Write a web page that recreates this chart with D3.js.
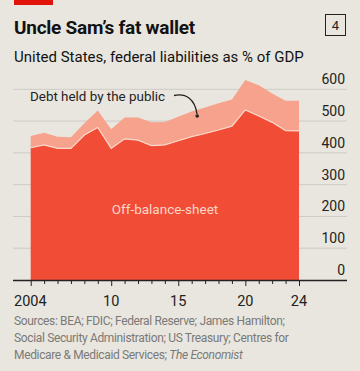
<!DOCTYPE html>
<html><head><meta charset="utf-8">
<script src="https://cdn.jsdelivr.net/npm/d3@7"></script>
<style>
html,body{margin:0;padding:0;background:#e9e6df;}
svg{display:block;font-family:Roboto,"Noto Sans",sans-serif;}
</style></head>
<body>
<svg id="chart" width="360" height="371"></svg>
<script>
const years = [2004,2005,2006,2007,2008,2009,2010,2011,2012,2013,2014,2015,2016,2017,2018,2019,2020,2021,2022,2023,2024];
const offBalanceSheet = [416,425,414,414,456,480,414,444,440,423,425,438,451,461,472,484,535,516,496,470,469];
const debtHeldByPublic = [37,38,37,35,37,53,60,67,71,73,72,76,79,82,84,84,94,97,91,94,95];
const yTicks = [0,100,200,300,400,500,600];
const xMajorTicks = [2004,2010,2015,2020,2024];
const xTickLabels = ["2004","10","15","20","24"];

const svg = d3.select("#chart");
const W = 360, H = 371;
svg.append("rect").attr("width",W).attr("height",H).attr("fill","#e9e6df");

// header
svg.append("rect").attr("x",14).attr("y",0).attr("width",39).attr("height",5).attr("fill","#e3120b");
svg.append("text").attr("x",14).attr("y",34).attr("font-size",19).attr("font-weight",700)
  .attr("fill","#121212").attr("letter-spacing",-0.25).text("Uncle Sam\u2019s fat wallet");
svg.append("rect").attr("x",325.5).attr("y",14.5).attr("width",20).attr("height",21)
  .attr("fill","none").attr("stroke","#222").attr("stroke-width",1);
svg.append("text").attr("x",335.5).attr("y",30).attr("text-anchor","middle").attr("font-size",13)
  .attr("fill","#222").text("4");
svg.append("text").attr("x",14).attr("y",62).attr("font-size",15).attr("fill","#121212")
  .text("United States, federal liabilities as % of GDP");

const x = d3.scaleLinear().domain([2004,2024]).range([30.7,299]);
const y = d3.scaleLinear().domain([0,600]).range([280,89.3]);

// gridlines
svg.append("g").selectAll("line").data(yTicks.filter(d=>d>0)).join("line")
  .attr("x1",13).attr("x2",347).attr("y1",d=>y(d)).attr("y2",d=>y(d))
  .attr("stroke","#cdcac3").attr("stroke-width",1);

// stacked areas
const table = years.map((yr,i)=>({year:yr, off:offBalanceSheet[i], debt:debtHeldByPublic[i]}));
const stack = d3.stack().keys(["off","debt"]);
const series = stack(table);
const area = d3.area().x(d=>x(d.data.year)).y0(d=>y(d[0])).y1(d=>y(d[1]));
const colors = {off:"#f04c36", debt:"#f7a28c"};
svg.append("g").selectAll("path").data(series).join("path")
  .attr("d",area).attr("fill",d=>colors[d.key]);
const line = d3.line().x(d=>x(d.data.year)).y(d=>y(d[1]));
svg.append("path").datum(series[0]).attr("d",line).attr("fill","none")
  .attr("stroke","#fcd9cb").attr("stroke-width",1.2);

// y labels
svg.append("g").selectAll("text").data(yTicks).join("text")
  .attr("x",345).attr("y",d=>y(d)-5).attr("text-anchor","end").attr("font-size",14)
  .attr("fill","#222").text(d=>d);

// x axis
const xAxis = d3.axisBottom(x).tickValues(d3.range(2004,2025)).tickSize(4).tickFormat("");
const gx = svg.append("g").attr("transform","translate(0,280)").call(xAxis);
gx.select(".domain").remove();
gx.selectAll(".tick line").attr("stroke","#222").attr("stroke-width",1)
  .attr("y2",d=>xMajorTicks.includes(d)?6:4);
svg.append("line").attr("x1",13).attr("x2",347).attr("y1",280.5).attr("y2",280.5)
  .attr("stroke","#222").attr("stroke-width",1.5);
svg.append("g").selectAll("text").data(xMajorTicks).join("text")
  .attr("x",d=>d===2004?14:x(d)).attr("y",306)
  .attr("text-anchor",d=>d===2004?"start":"middle").attr("font-size",14.5).attr("fill","#222")
  .text((d,i)=>xTickLabels[i]);

// labels
svg.append("text").attr("x",165).attr("y",214).attr("text-anchor","middle").attr("font-size",13.5)
  .attr("fill","#fcd6c8").text("Off-balance-sheet");
svg.append("text").attr("x",30).attr("y",101).attr("font-size",13.4).attr("fill","#222")
  .text("Debt held by the public");
svg.append("path").attr("d","M174,95.5 C186,93 195,99 197,114").attr("fill","none")
  .attr("stroke","#222").attr("stroke-width",1.3);
svg.append("circle").attr("cx",197.2).attr("cy",116).attr("r",1.8).attr("fill","#222");

// source
const src = svg.append("text").attr("x",14).attr("font-size",12).attr("letter-spacing",-0.35).attr("fill","#7a7a78");
src.append("tspan").attr("x",14).attr("y",325).text("Sources: BEA; FDIC; Federal Reserve; James Hamilton;");
src.append("tspan").attr("x",14).attr("y",342).text("Social Security Administration; US Treasury; Centres for");
src.append("tspan").attr("x",14).attr("y",359).text("Medicare & Medicaid Services; ");
src.append("tspan").attr("font-style","italic").text("The Economist");
</script>
</body></html>
